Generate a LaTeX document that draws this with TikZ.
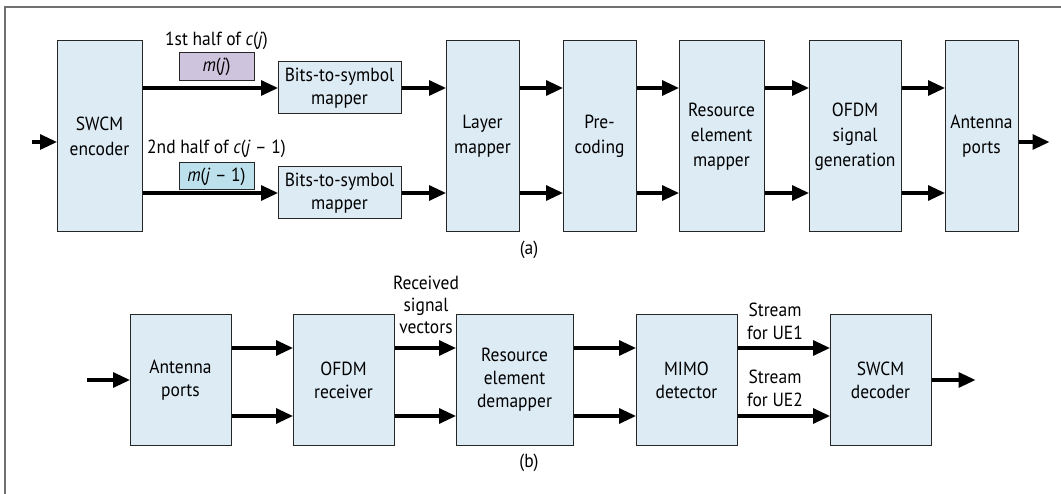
\documentclass[tikz,border=0pt]{standalone}
\usepackage{fontspec}
\setmainfont{PT Sans}[FakeStretch=0.92]
\usetikzlibrary{arrows.meta}
\definecolor{boxfill}{HTML}{DDEBF5}
\definecolor{mjfill}{HTML}{CFC4DD}
\definecolor{mj1fill}{HTML}{BDE1EC}
\definecolor{framegray}{HTML}{707070}
\tikzset{
  box/.style={draw=black!85, line width=1pt, fill=boxfill, align=center, inner sep=0pt,
    font=\fontsize{19}{23}\selectfont},
  tall/.style={font=\fontsize{19}{25}\selectfont},
  lbl/.style={align=center, inner sep=0pt, font=\fontsize{19}{23}\selectfont},
  arr/.style={line width=3.2pt, -{Triangle[length=17pt,width=15pt]}, shorten >=-0.5pt}
}
\begin{document}
\begin{tikzpicture}[x=1pt,y=-1pt]
\useasboundingbox (0,0) rectangle (1061,494);
\draw[framegray, line width=1.4pt] (5,494) -- (5,7) -- (1061,7);
% (a)
\node[box, tall, minimum width=85pt, minimum height=191pt] (enc) at (99.5,136.5) {SWCM\\encoder};
\node[box, minimum width=123pt, minimum height=52pt] (b1) at (339.5,88) {Bits-to-symbol\\mapper};
\node[box, minimum width=123pt, minimum height=52pt] (b2) at (339.5,193) {Bits-to-symbol\\mapper};
\node[box, tall, minimum width=73pt, minimum height=191pt] (lay) at (482.5,136.5) {Layer\\mapper};
\node[box, tall, minimum width=73pt, minimum height=191pt] (pre) at (599.5,136.5) {Pre-\\coding};
\node[box, tall, minimum width=85pt, minimum height=191pt] (rem) at (721.5,136.5) {Resource\\element\\mapper};
\node[box, tall, minimum width=92pt, minimum height=191pt] (ofdm) at (855,136.5) {OFDM\\signal\\generation};
\node[box, tall, minimum width=73pt, minimum height=191pt] (ant) at (981.5,136.5) {Antenna\\ports};
\node[box, fill=mjfill, minimum width=75pt, minimum height=28pt] (mj) at (216.5,67) {\textit{m}(\textit{j})};
\node[box, fill=mj1fill, minimum width=75pt, minimum height=27pt] (mj1) at (216.5,176.5) {\textit{m}(\textit{j} – 1)};
\node[lbl] (l1) at (216.5,41) {1st half of \textit{c}(\textit{j})};
\node[lbl] (l2) at (216.5,149) {2nd half of \textit{c}(\textit{j} – 1)};
\node[lbl] (capa) at (529,250) {(a)};
\coordinate (inA) at (32,142);
\coordinate (outA) at (1049,142);
\draw[arr] (inA) -- (inA -| enc.west);
\draw[arr] (enc.east |- b1) -- (b1.west);
\draw[arr] (enc.east |- b2) -- (b2.west);
\draw[arr] (b1.east) -- (lay.west |- b1);
\draw[arr] (b2.east) -- (lay.west |- b2);
\draw[arr] (lay.east |- b1) -- (pre.west |- b1);
\draw[arr] (lay.east |- b2) -- (pre.west |- b2);
\draw[arr] (pre.east |- b1) -- (rem.west |- b1);
\draw[arr] (pre.east |- b2) -- (rem.west |- b2);
\draw[arr] (rem.east |- b1) -- (ofdm.west |- b1);
\draw[arr] (rem.east |- b2) -- (ofdm.west |- b2);
\draw[arr] (ofdm.east |- b1) -- (ant.west |- b1);
\draw[arr] (ofdm.east |- b2) -- (ant.west |- b2);
\draw[arr] (ant.east |- outA) -- (outA);
% (b)
\node[box, minimum width=101pt, minimum height=130pt] (ant2) at (180.5,380) {Antenna\\ports};
\node[box, minimum width=101pt, minimum height=130pt] (ofr) at (343.5,380) {OFDM\\receiver};
\node[box, minimum width=117pt, minimum height=130pt] (red) at (514.5,380) {Resource\\element\\demapper};
\node[box, minimum width=101pt, minimum height=130pt] (mimo) at (686.5,380) {MIMO\\detector};
\node[box, minimum width=101pt, minimum height=130pt] (dec) at (880.5,380) {SWCM\\decoder};
\node[lbl, font=\fontsize{19}{22}\selectfont] (rsv) at (426,305) {Received\\signal\\vectors};
\node[lbl] (s1) at (775,321) {Stream\\for UE1};
\node[lbl] (s2) at (775,388) {Stream\\for UE2};
\node[lbl] (capb) at (529,463) {(b)};
\coordinate (inB) at (87,380);
\coordinate (outB) at (975,380);
\coordinate (hi) at (0,348);
\coordinate (lo) at (0,416);
\draw[arr] (inB) -- (ant2.west);
\draw[arr] (ant2.east |- hi) -- (ofr.west |- hi);
\draw[arr] (ant2.east |- lo) -- (ofr.west |- lo);
\draw[arr] (ofr.east |- hi) -- (red.west |- hi);
\draw[arr] (ofr.east |- lo) -- (red.west |- lo);
\draw[arr] (red.east |- hi) -- (mimo.west |- hi);
\draw[arr] (red.east |- lo) -- (mimo.west |- lo);
\draw[arr] (mimo.east |- hi) -- (dec.west |- hi);
\draw[arr] (mimo.east |- lo) -- (dec.west |- lo);
\draw[arr] (dec.east) -- (outB);
\end{tikzpicture}
\end{document}
